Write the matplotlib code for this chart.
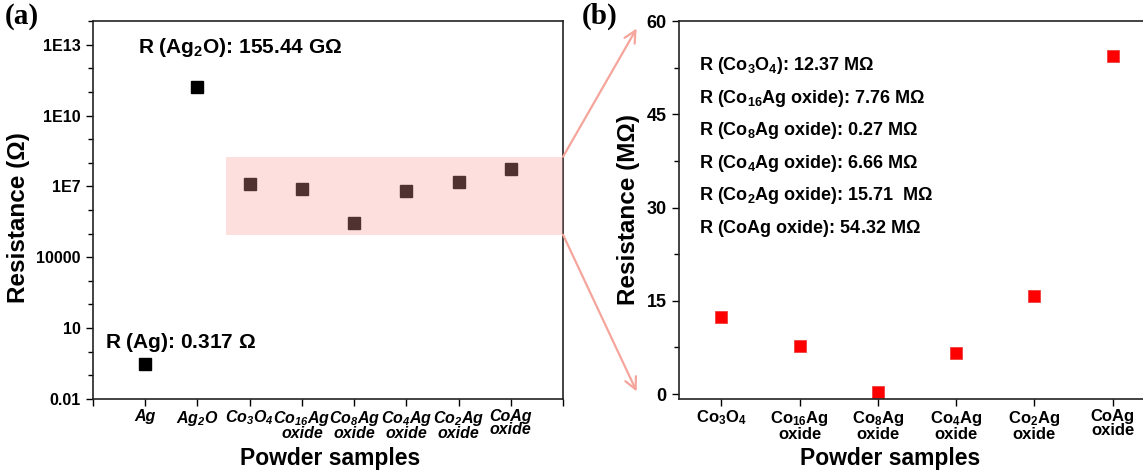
"""
Resistance of the powder samples: (a) log scale, all samples; (b) linear zoom on the oxides
"""
import matplotlib
matplotlib.use('Agg')
import matplotlib.pyplot as plt
from matplotlib.patches import Rectangle, ConnectionPatch
from matplotlib.ticker import FixedLocator, MultipleLocator, LogLocator, NullFormatter

plt.rcParams['font.family'] = ['Liberation Sans', 'DejaVu Sans']
plt.rcParams['font.weight'] = 'bold'

# 数据 (a): 全部样品, 单位 Ω
labels_a = ['Ag', r'Ag$\mathregular{_2}$O', r'Co$\mathregular{_3}$O$\mathregular{_4}$',
            'Co$\\mathregular{_{16}}$Ag\noxide', 'Co$\\mathregular{_8}$Ag\noxide',
            'Co$\\mathregular{_4}$Ag\noxide', 'Co$\\mathregular{_2}$Ag\noxide', 'CoAg\noxide']
res_a = [0.317, 155.44e9, 12.37e6, 7.76e6, 0.27e6, 6.66e6, 15.71e6, 54.32e6]

# 数据 (b): 氧化物, 单位 MΩ
labels_b = [r'Co$\mathregular{_3}$O$\mathregular{_4}$', 'Co$\\mathregular{_{16}}$Ag\noxide',
            'Co$\\mathregular{_8}$Ag\noxide', 'Co$\\mathregular{_4}$Ag\noxide',
            'Co$\\mathregular{_2}$Ag\noxide', 'CoAg\noxide']
res_b = [12.37, 7.76, 0.27, 6.66, 15.71, 54.32]

ytick_a = [1e-2, 1e1, 1e4, 1e7, 1e10, 1e13]
ytick_a_labels = ['0.01', '10', '10000', '1E7', '1E10', '1E13']

# 放大区域 (a 图中粉色框)
zoom_x = [2.55, 9]
zoom_y = [9e4, 1.8e8]

notes_b = [r'R (Co$\mathregular{_3}$O$\mathregular{_4}$): 12.37 M$\mathregular{\Omega}$',
           r'R (Co$\mathregular{_{16}}$Ag oxide): 7.76 M$\mathregular{\Omega}$',
           r'R (Co$\mathregular{_8}$Ag oxide): 0.27 M$\mathregular{\Omega}$',
           r'R (Co$\mathregular{_4}$Ag oxide): 6.66 M$\mathregular{\Omega}$',
           r'R (Co$\mathregular{_2}$Ag oxide): 15.71  M$\mathregular{\Omega}$',
           r'R (CoAg oxide): 54.32 M$\mathregular{\Omega}$']

fig = plt.figure(figsize=(11.43, 4.71), dpi=100)
ax1 = fig.add_axes([0.0814, 0.1529, 0.4112, 0.8025])
ax2 = fig.add_axes([0.594, 0.1529, 0.4138, 0.8025])

pink = '#f5a59b'

# ---- (a) ----
xa = list(range(1, len(res_a) + 1))
ax1.plot(xa, res_a, 's', color='black', ms=8, ls='none', zorder=2)
ax1.add_patch(Rectangle((zoom_x[0], zoom_y[0]), zoom_x[1] - zoom_x[0], zoom_y[1] - zoom_y[0],
                        facecolor=(0.98, 0.61, 0.59), alpha=0.32, edgecolor='none', zorder=3))
ax1.set_yscale('log')
ax1.set_ylim(1e-2, 1e14)
ax1.set_xlim(0, 9)
ax1.yaxis.set_major_locator(FixedLocator(ytick_a))
ax1.set_yticklabels(ytick_a_labels)
ax1.yaxis.set_minor_locator(LogLocator(base=10, subs=(1.0,), numticks=40))
ax1.yaxis.set_minor_formatter(NullFormatter())
ax1.set_xticks(range(0, 10))
ax1.set_xticklabels([''] + labels_a + [''], fontsize=11.5, style='italic',
                    linespacing=0.85)
ax1.tick_params(axis='y', which='major', labelsize=11.5, length=5, width=1, pad=4)
ax1.tick_params(axis='y', which='minor', length=3.5, width=1)
ax1.tick_params(axis='x', length=5, width=1, pad=2)
ax1.set_ylabel('Resistance (Ω)', fontsize=17.5, fontweight='bold')
ax1.yaxis.set_label_coords(-0.135, 0.48)
ax1.set_xlabel('Powder samples', fontsize=16.5, fontweight='bold', va='top')
ax1.xaxis.set_label_coords(0.504, -0.128)
ax1.text(0.096, 0.915, r'R (Ag$\mathregular{_2}$O): 155.44 G$\mathregular{\Omega}$',
         transform=ax1.transAxes, fontsize=15, fontweight='bold')
ax1.text(0.0255, 0.135, r'R (Ag): 0.317 $\mathregular{\Omega}$',
         transform=ax1.transAxes, fontsize=15, fontweight='bold')

# ---- (b) ----
xb = list(range(1, len(res_b) + 1))
ax2.plot(xb, res_b, 's', color='#ff0000', mec='#f04040', mew=0.6, ms=9, ls='none')
ax2.set_xlim(0.46, 6.5)
ax2.set_ylim(-0.8, 60)
ax2.set_xticks(xb)
ax2.set_xticklabels(labels_b, fontsize=12, linespacing=0.9)
ax2.yaxis.set_major_locator(MultipleLocator(15))
ax2.yaxis.set_minor_locator(MultipleLocator(7.5))
ax2.tick_params(axis='y', which='major', labelsize=13, length=5, width=1, pad=4)
ax2.tick_params(axis='y', which='minor', length=3.5, width=1)
ax2.tick_params(axis='x', length=5, width=1, pad=2)
ax2.set_ylabel('Resistance (MΩ)', fontsize=17.5, fontweight='bold')
ax2.yaxis.set_label_coords(-0.083, 0.5)
ax2.set_xlabel('Powder samples', fontsize=16.5, fontweight='bold', va='top')
ax2.xaxis.set_label_coords(0.446, -0.128)
for i, s in enumerate(notes_b):
    ax2.text(0.042, 0.870 - i * 0.0862, s, transform=ax2.transAxes,
             fontsize=13, fontweight='bold')

for ax in (ax1, ax2):
    for sp in ax.spines.values():
        sp.set_linewidth(1.2)
        sp.set_color('#222222')

# 箭头: 从粉色框指向 (b)
for ya, yb in [(zoom_y[1], 58.8), (zoom_y[0], 0.4)]:
    con = ConnectionPatch(xyA=(9, ya), coordsA=ax1.transData,
                          xyB=(-0.08, yb), coordsB=ax2.transData,
                          arrowstyle='->,head_length=0.7,head_width=0.35',
                          color=pink, lw=1.6, mutation_scale=12)
    fig.add_artist(con)

fig.text(5 / 1143, 1 - 3 / 471, '(a)', family='Liberation Serif', fontsize=21,
         fontweight='bold', va='top')
fig.text(582 / 1143, 1 - 3 / 471, '(b)', family='Liberation Serif', fontsize=21,
         fontweight='bold', va='top')

fig.savefig('out.png', dpi=100)
